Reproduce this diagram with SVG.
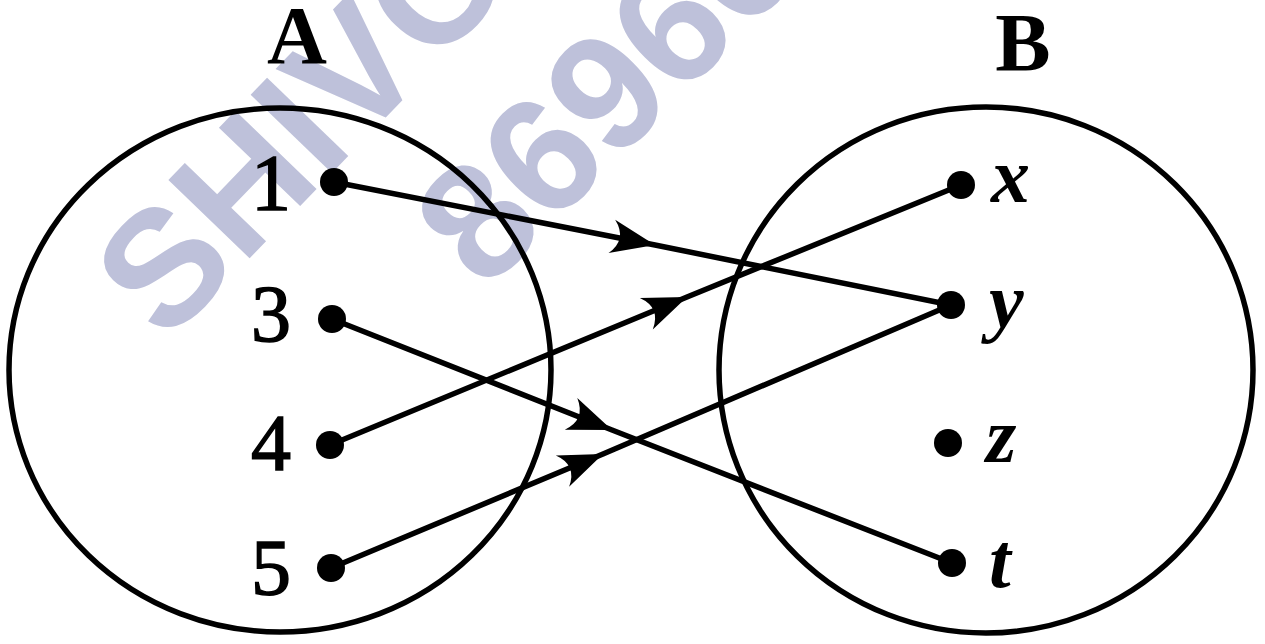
<svg xmlns="http://www.w3.org/2000/svg" width="1265" height="644" viewBox="0 0 1265 644">
<style>
.set{fill:none;stroke:#000;stroke-width:5.5}
.dot{fill:#000}
.num{font-family:"Liberation Serif",serif;font-size:80px;fill:#000;stroke:#000;stroke-width:1.5;text-anchor:end}
.var{font-family:"Liberation Serif",serif;font-size:78px;font-style:italic;font-weight:bold;fill:#000}
.title{font-family:"Liberation Serif",serif;font-size:83px;font-weight:bold;fill:#000;text-anchor:middle}
.wm{font-family:"Liberation Sans",sans-serif;font-weight:bold;font-size:164px;fill:#BEC1DA}
.conn{fill:none;stroke:#000;stroke-width:5.5;marker-mid:url(#arr)}
</style>
<defs>
<marker id="arr" markerUnits="userSpaceOnUse" markerWidth="60" markerHeight="40" refX="50" refY="20" orient="auto" viewBox="0 0 60 40">
<path d="M50 20 L6 3 Q22 20 6 37 Z" fill="#000"/>
</marker>
</defs>
<rect width="1265" height="644" fill="#fff"/>
<g id="watermark">
<text class="wm" transform="translate(166 345) rotate(-46)">SHIVO</text>
<text class="wm" transform="translate(485 293) rotate(-45)">86966</text>
</g>
<g id="setA">
<ellipse class="set" cx="280" cy="370" rx="271" ry="262"/>
<text class="title" x="297" y="63">A</text>
</g>
<g id="setB">
<ellipse class="set" cx="986" cy="370" rx="267" ry="263"/>
<text class="title" x="1023" y="70">B</text>
</g>
<g id="connectors">
<path class="conn" d="M334 182 L655 245 L951 305"/>
<path class="conn" d="M332 319 L612 430 L952 563"/>
<path class="conn" d="M330 445 L687 297 L961 185"/>
<path class="conn" d="M331 568 L603 454 L951 305"/>
</g>
<g id="n1"><circle class="dot" cx="334" cy="182" r="14"/><text class="num" x="291" y="210">1</text></g>
<g id="n3"><circle class="dot" cx="332" cy="319" r="14"/><text class="num" x="291" y="341">3</text></g>
<g id="n4"><circle class="dot" cx="330" cy="445" r="14"/><text class="num" x="291" y="470">4</text></g>
<g id="n5"><circle class="dot" cx="331" cy="568" r="14"/><text class="num" x="291" y="595">5</text></g>
<g id="nx"><circle class="dot" cx="961" cy="185" r="14"/><text class="var" x="991" y="202">x</text></g>
<g id="ny"><circle class="dot" cx="951" cy="305" r="14"/><text class="var" x="989" y="327">y</text></g>
<g id="nz"><circle class="dot" cx="948" cy="443" r="14"/><text class="var" x="986" y="462">z</text></g>
<g id="nt"><circle class="dot" cx="952" cy="563" r="14"/><text class="var" x="989" y="587">t</text></g>
</svg>
